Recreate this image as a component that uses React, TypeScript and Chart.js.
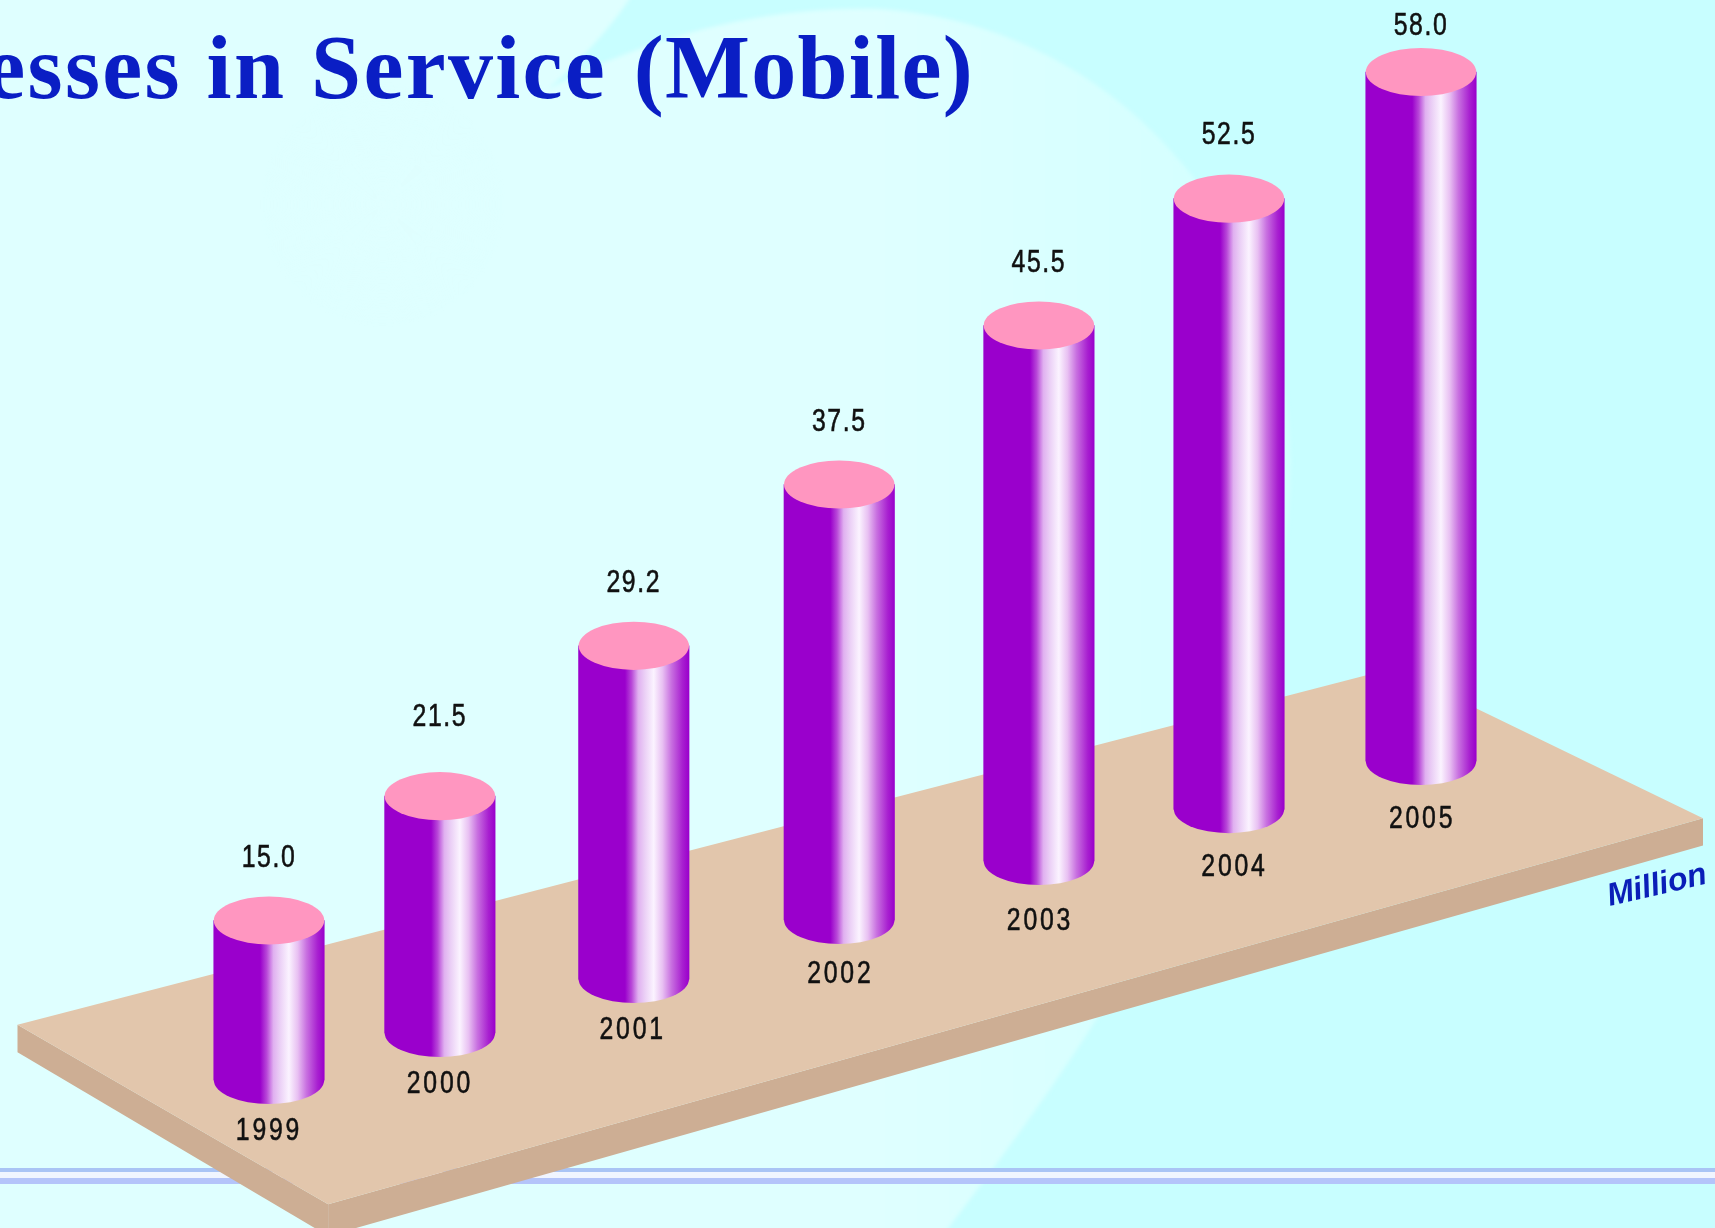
import React, { useEffect, useRef } from "react";
import { Chart, registerables } from "chart.js";

Chart.register(...registerables);

const W = 1715;
const H = 1228;
const K = 1715 / 1568;

const years = ["1999", "2000", "2001", "2002", "2003", "2004", "2005"];
const values = [15.0, 21.5, 29.2, 37.5, 45.5, 52.5, 58.0];
// Where each cylinder stands along the platform, in years
const floorPositions = [1999, 1999.89, 2000.9, 2001.97, 2003.01, 2004.0, 2005];
// Level of each cylinder's foot on the tilted platform, in millions
const floorLevels = [12.44, 16.39, 20.92, 25.88, 30.84, 35.2, 39.24];
// Height lost to the drawing's perspective, in millions
const perspectiveTrim = [1.6, 1.6, 1.2, 0.9, 0.5, 1.2, 0.1];

const PX_PER_MILLION = 11.9;
const PX_PER_YEAR = 192;
const X_MIN = 1999 - 269 / PX_PER_YEAR;

const valueLabelGap = [35, 50, 35, 35, 35, 36, 20];
const yearLabelGap = [25, 25, 25, 28, 33, 31, 31];
const yearLabelShift = [0, 0, -1, 1, 1, 5, 1];

const CAP_RY = 22 * K;
const BAR_W = 101 * K;

function cylinderGradient(ctx: CanvasRenderingContext2D, cx: number, w: number) {
  const g = ctx.createLinearGradient(cx - w / 2, 0, cx + w / 2, 0);
  g.addColorStop(0, "#9A00CC");
  g.addColorStop(0.42, "#9A00CC");
  g.addColorStop(0.48, "#B848D8");
  g.addColorStop(0.54, "#E0B0F0");
  g.addColorStop(0.6, "#EBD0F6");
  g.addColorStop(0.68, "#FBF3FF");
  g.addColorStop(0.76, "#E8C0F2");
  g.addColorStop(0.84, "#C870E0");
  g.addColorStop(0.94, "#A820D0");
  g.addColorStop(1, "#9A00CC");
  return g;
}

function poly(ctx: CanvasRenderingContext2D, pts: number[][], color: string) {
  ctx.beginPath();
  pts.forEach(([x, y], i) => (i ? ctx.lineTo(x * K, y * K) : ctx.moveTo(x * K, y * K)));
  ctx.closePath();
  ctx.fillStyle = color;
  ctx.fill();
}

function drawBackdrop(ctx: CanvasRenderingContext2D) {
  ctx.fillStyle = "#C8FEFF";
  ctx.fillRect(0, 0, W, H);
  ctx.save();
  ctx.filter = "blur(2px)";
  ctx.scale(K, K);
  ctx.beginPath();
  ctx.moveTo(-20, -20);
  ctx.lineTo(585, -20);
  ctx.lineTo(575, 0);
  ctx.quadraticCurveTo(510, 95, 350, 187);
  ctx.bezierCurveTo(480, 70, 640, 5, 800, 8);
  ctx.bezierCurveTo(1020, 20, 1180, 210, 1180, 420);
  ctx.bezierCurveTo(1180, 700, 1000, 950, 850, 1145);
  ctx.lineTo(-20, 1145);
  ctx.closePath();
  const light = ctx.createLinearGradient(800, 0, 1180, 0);
  light.addColorStop(0, "#DFFFFF");
  light.addColorStop(1, "#D2FFFF");
  ctx.fillStyle = light;
  ctx.fill();
  // The swoosh dissolves toward its tip
  const tip = ctx.createRadialGradient(350, 187, 0, 350, 187, 110);
  tip.addColorStop(0, "rgba(223,255,255,1)");
  tip.addColorStop(0.45, "rgba(223,255,255,0.7)");
  tip.addColorStop(1, "rgba(223,255,255,0)");
  ctx.fillStyle = tip;
  ctx.fillRect(240, 77, 220, 220);
  ctx.restore();

  // Rule across the foot of the slide
  const bands: [number, number, string][] = [
    [1168, 4, "#A9C4F5"],
    [1172, 6, "#F0F5FF"],
    [1178, 6, "#B4C4FA"],
  ];
  bands.forEach(([y, h, c]) => {
    ctx.fillStyle = c;
    ctx.fillRect(0, y, W, h);
  });

  // Platform
  poly(ctx, [[16, 937], [300, 1101], [300, 1130], [16, 962]], "#CDAE94");
  poly(ctx, [[300, 1101], [1557, 748], [1557, 773], [300, 1130]], "#CDAE94");
  poly(ctx, [[16, 937], [1274, 611], [1557, 748], [300, 1101]], "#E2C6AC");
}

function label(ctx: CanvasRenderingContext2D, text: string, x: number, y: number, spacing: string) {
  ctx.save();
  (ctx as any).letterSpacing = spacing;
  ctx.translate(x, y);
  ctx.scale(0.8, 1);
  ctx.fillText(text, 0, 0);
  ctx.strokeText(text, 0, 0);
  ctx.restore();
}

const cylinderPlugin = {
  id: "cylinders",
  beforeDatasetsDraw(chart: any) {
    const ctx: CanvasRenderingContext2D = chart.ctx;
    drawBackdrop(ctx);
    chart.getDatasetMeta(0).data.forEach((el: any) => {
      ctx.beginPath();
      ctx.ellipse(el.x, el.base, el.width / 2, CAP_RY, 0, 0, Math.PI);
      ctx.closePath();
      ctx.fillStyle = cylinderGradient(ctx, el.x, el.width);
      ctx.fill();
    });
  },
  afterDatasetsDraw(chart: any) {
    const ctx: CanvasRenderingContext2D = chart.ctx;
    ctx.save();
    ctx.textAlign = "center";
    ctx.textBaseline = "middle";
    chart.getDatasetMeta(0).data.forEach((el: any, i: number) => {
      ctx.beginPath();
      ctx.ellipse(el.x, el.y, el.width / 2, CAP_RY, 0, 0, Math.PI * 2);
      ctx.fillStyle = "#FF96C0";
      ctx.fill();

      ctx.fillStyle = "#111111";
      ctx.strokeStyle = "#111111";
      ctx.lineWidth = 0.6;
      ctx.font = '31px "Liberation Sans", sans-serif';
      label(ctx, values[i].toFixed(1), el.x, el.y - CAP_RY - valueLabelGap[i] * K, "2px");
      label(ctx, years[i], el.x + yearLabelShift[i] * K, el.base + CAP_RY + yearLabelGap[i] * K, "3.5px");
    });

    // Title, running off the left edge as in the reference
    ctx.textAlign = "right";
    ctx.textBaseline = "alphabetic";
    ctx.fillStyle = "#0A1EC4";
    ctx.font = 'bold 90px "Liberation Serif", serif';
    (ctx as any).letterSpacing = "2.3px";
    ctx.fillText("esses in Service", 607, 98);
    (ctx as any).letterSpacing = "1.3px";
    ctx.fillText("(Mobile)", 974, 98);
    (ctx as any).letterSpacing = "0px";

    // Unit, tilted along the platform edge
    ctx.save();
    ctx.translate(1657, 886);
    ctx.rotate((-13 * Math.PI) / 180);
    ctx.textAlign = "center";
    ctx.textBaseline = "middle";
    ctx.fillStyle = "#0A1EB8";
    ctx.font = 'italic bold 32px "Liberation Sans", sans-serif';
    ctx.fillText("Million", 0, 0);
    ctx.restore();
    ctx.restore();
  },
};

export default function App() {
  const ref = useRef<HTMLCanvasElement | null>(null);

  useEffect(() => {
    if (!ref.current) return;
    const chart = new Chart(ref.current, {
      type: "bar",
      data: {
        datasets: [
          {
            label: "Million",
            data: years.map((_, i) => ({
              x: floorPositions[i],
              y: [floorLevels[i], floorLevels[i] + values[i] - perspectiveTrim[i]],
            })),
            barThickness: BAR_W,
            borderWidth: 0,
            backgroundColor: (c: any) => {
              const pos = floorPositions[c.dataIndex] ?? 1999;
              const px = (pos - X_MIN) * PX_PER_YEAR;
              return cylinderGradient(c.chart.ctx, px, BAR_W);
            },
          },
        ],
      },
      options: {
        responsive: false,
        animation: false,
        layout: { padding: 0 },
        plugins: { legend: { display: false }, tooltip: { enabled: false } },
        scales: {
          x: {
            type: "linear",
            display: false,
            offset: false,
            min: X_MIN,
            max: X_MIN + W / PX_PER_YEAR,
            grid: { display: false, offset: false },
          },
          y: {
            type: "linear",
            display: false,
            min: 0,
            max: H / PX_PER_MILLION,
            grid: { display: false },
          },
        },
      } as any,
      plugins: [cylinderPlugin],
    } as any);
    return () => chart.destroy();
  }, []);

  return (
    <div style={{ position: "fixed", left: 0, top: 0, width: W, height: H, overflow: "hidden", background: "#C8FEFF" }}>
      <canvas ref={ref} width={W} height={H} style={{ display: "block", filter: "blur(0.5px)" }} />
    </div>
  );
}
